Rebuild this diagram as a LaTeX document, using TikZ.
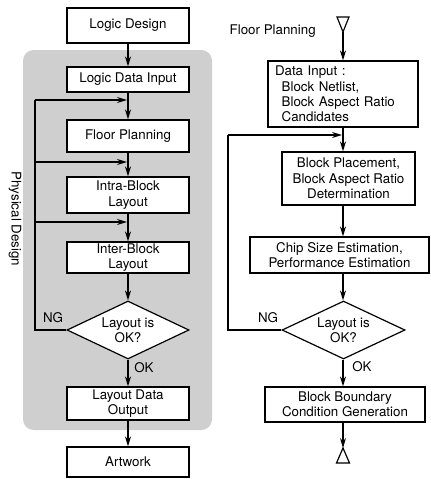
\documentclass[tikz,border=0pt]{standalone}
\usepackage{fontspec}
\setmainfont{TeX Gyre Heros}
\usetikzlibrary{arrows.meta, shapes.geometric}

\begin{document}
\begin{tikzpicture}[x=0.75pt, y=0.75pt,
  font=\fontsize{10}{11.5}\selectfont,
  box/.style={draw, fill=white, line width=0.9pt, inner sep=0pt,
              align=center, minimum width=91.5pt},
  chk/.style={diamond, draw, fill=white, line width=0.9pt, inner sep=0pt,
              aspect=2.1, align=center, minimum width=91.5pt, minimum height=43.5pt},
  arr/.style={-{Stealth[length=7.5pt, width=4.5pt]}, line width=0.9pt},
  ln/.style={line width=0.9pt},
  tri/.style={draw, fill=white, line width=0.9pt, line join=miter}
]
\useasboundingbox (0,0) rectangle (430,-479);

% physical design area
\node[fill=gray!38, rounded corners=8pt, minimum width=141.75pt,
      minimum height=285pt, inner sep=0pt] (pa) at (117.5,-240) {};
\node[rotate=-90] (pd) at (15,-219) {Physical Design};

% left flow
\node[box, minimum height=26.25pt] (ld)  at (128,-25.5)  {Logic Design};
\node[box, minimum height=18.75pt] (ldi) at (128,-79.5)  {Logic Data Input};
\node[box, minimum height=24pt]    (fp)  at (128,-136)   {Floor Planning};
\node[box, minimum height=27pt]    (ia)  at (128,-195)   {Intra-Block\\Layout};
\node[box, minimum height=23.25pt] (ie)  at (128,-257.5) {Inter-Block\\Layout};
\node[chk] (ok1) at (128,-330) {Layout is\\OK?};
\node[box, minimum height=24.75pt] (ldo) at (128,-403.5) {Layout Data\\Output};
\node[box, minimum height=22.5pt]  (aw)  at (128,-462)   {Artwork};

\foreach \a/\b in {ld/ldi, ldi/fp, fp/ia, ia/ie, ie/ok1, ok1/ldo, ldo/aw}
  \draw[arr] (\a) -- (\b);

% NG loop, left
\coordinate (nl) at (35,-330);
\coordinate (r1) at (35,-100);  \coordinate (t1) at (127,-100);
\coordinate (r2) at (35,-162);  \coordinate (t2) at (127,-162);
\coordinate (r3) at (35,-222);  \coordinate (t3) at (127,-222);
\draw[ln] (ok1.west) -- (nl) -- (r1);
\foreach \i in {1,2,3} \draw[arr] (r\i) -- (t\i);
\node (ng1) at (53,-318) {NG};
\node (ok1l) at (144,-368) {OK};

% right flow: floor planning detail
\node[anchor=west] (fpl) at (225,-31) {Floor Planning};
\coordinate (ta) at (343,-32);
\draw[tri] (337,-17) -- (349,-17) -- (ta) -- cycle;

\node[box, minimum width=112.5pt, minimum height=49.5pt, text width=102pt,
      inner xsep=5.25pt, align=left] (din) at (343,-94)
  {Data Input :\\
   \hspace*{5pt}Block Netlist,\\
   \hspace*{5pt}Block Aspect Ratio\\
   \hspace*{5pt}Candidates};
\node[box, minimum width=99.75pt, minimum height=39.75pt] (bp) at (348.5,-178.5)
  {Block Placement,\\Block Aspect Ratio\\Determination};
\node[box, minimum width=134.25pt, minimum height=27pt] (cs) at (339.5,-255)
  {Chip Size Estimation,\\Performance Estimation};
\node[chk, minimum width=92.25pt] (ok2) at (343.5,-330) {Layout is\\OK?};
\node[box, minimum width=120pt, minimum height=26.25pt] (bb) at (345,-404.5)
  {Block Boundary\\Condition Generation};

\coordinate (tb) at (343,-448);
\draw[tri] (tb) -- (349.5,-463) -- (336.5,-463) -- cycle;

\draw[arr] (ta) -- (din.north -| ta);
\draw[arr] (din.south -| ta) -- (bp.north -| ta);
\draw[arr] (bp.south -| ta) -- (cs.north -| ta);
\draw[arr] (cs.south -| ta) -- (ok2.north -| ta);
\draw[arr] (ok2.south -| ta) -- (bb.north -| ta);
\draw[arr] (bb.south -| ta) -- (tb);

% NG loop, right
\coordinate (nr) at (228,-330);
\coordinate (r4) at (228,-135);  \coordinate (t4) at (342,-135);
\draw[ln] (ok2.west) -- (nr) -- (r4);
\draw[arr] (r4) -- (t4);
\node (ng2) at (268,-318) {NG};
\node (ok2l) at (362,-367) {OK};
\end{tikzpicture}
\end{document}
